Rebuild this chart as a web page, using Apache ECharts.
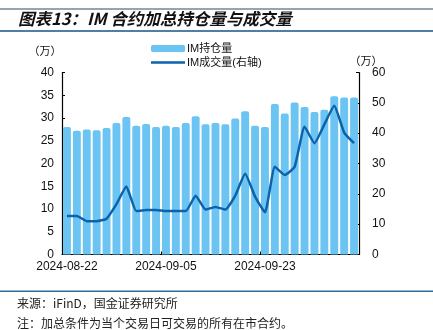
<!DOCTYPE html>
<html>
<head>
<meta charset="utf-8">
<script src="https://cdn.jsdelivr.net/npm/echarts@6/dist/echarts.min.js"></script>
<style>
  html, body { margin: 0; padding: 0; background: #fff; }
  #chart { width: 433px; height: 330px; }
</style>
</head>
<body>
<div id="chart"></div>
<script>
// Trading days shown on the category axis
const dates = [
  '2024-08-22','2024-08-23','2024-08-26','2024-08-27','2024-08-28','2024-08-29','2024-08-30',
  '2024-09-02','2024-09-03','2024-09-04','2024-09-05','2024-09-06','2024-09-09','2024-09-10',
  '2024-09-11','2024-09-12','2024-09-13','2024-09-18','2024-09-19','2024-09-20','2024-09-23',
  '2024-09-24','2024-09-25','2024-09-26','2024-09-27','2024-09-30','2024-10-08','2024-10-09',
  '2024-10-10','2024-10-11'
];
// IM total open interest (10k lots, left axis)
const openInterest = [
  28.0, 27.2, 27.5, 27.3, 27.8, 28.9, 30.2, 28.3, 28.7, 28.0,
  28.3, 28.0, 28.9, 30.4, 28.6, 28.9, 28.6, 29.9, 31.5, 28.3,
  28.0, 33.1, 31.0, 33.4, 32.4, 31.3, 31.8, 34.8, 34.5, 34.5
];
// IM total trading volume (10k lots, right axis)
const volume = [
  12.7, 12.7, 11.0, 11.0, 11.8, 16.6, 22.4, 14.3, 14.7, 14.7,
  14.3, 14.3, 14.3, 19.4, 14.8, 15.7, 14.8, 19.4, 26.6, 19.1,
  13.9, 28.9, 26.2, 28.9, 42.1, 36.7, 42.9, 49.0, 40.2, 36.7
];
const seriesNames = ['IM持仓量', 'IM成交量(右轴)'];
const titleText = '图表13：IM 合约加总持仓量与成交量';
const sourceText = '来源：iFinD，国金证券研究所';
const noteText = '注：加总条件为当个交易日可交易的所有在市合约。';
const unitText = '（万）';

const barColor = '#6cc4f2';
const lineColor = '#0b62ad';
const labelFont = { color: '#111', fontSize: 12, fontFamily: 'Liberation Sans, Arial, sans-serif' };
// thin horizontal stroke centred in a 34x7 legend box
const lineIcon = 'path://M0,0M34,7M0,2.3L34,2.3L34,4.7L0,4.7Z';

const chart = echarts.init(document.getElementById('chart'), null, { renderer: 'canvas' });

chart.setOption({
  animation: false,
  backgroundColor: '#fff',
  grid: { left: 62, right: 74, top: 72.5, bottom: 75.5, containLabel: false },
  legend: {
    orient: 'vertical',
    left: 146,
    top: 38,
    itemWidth: 34,
    itemHeight: 7,
    itemGap: 3,
    textStyle: { color: '#111', fontSize: 11, fontFamily: 'Liberation Sans, Noto Sans CJK SC, sans-serif', padding: [0, 0, 0, -3] },
    data: [
      { name: seriesNames[0], icon: 'roundRect' },
      { name: seriesNames[1], icon: lineIcon, itemStyle: { color: lineColor } }
    ]
  },
  xAxis: {
    type: 'category',
    data: dates,
    boundaryGap: true,
    axisLine: { lineStyle: { color: '#000', width: 1.2 } },
    axisTick: { show: true, inside: true, length: 3, interval: 9, lineStyle: { color: '#000' } },
    axisLabel: Object.assign({ interval: 9, margin: 6 }, labelFont)
  },
  yAxis: [
    {
      type: 'value', min: 0, max: 40, interval: 5,
      splitLine: { show: false },
      axisLine: { show: true, lineStyle: { color: '#000', width: 1.2 } },
      axisTick: { show: true, inside: true, length: 3, lineStyle: { color: '#000' } },
      axisLabel: Object.assign({ margin: 8 }, labelFont)
    },
    {
      type: 'value', min: 0, max: 60, interval: 10, position: 'right',
      splitLine: { show: false },
      axisLine: { show: true, lineStyle: { color: '#000', width: 1.2 } },
      axisTick: { show: true, inside: true, length: 3, lineStyle: { color: '#000' } },
      axisLabel: Object.assign({ margin: 13 }, labelFont)
    }
  ],
  series: [
    {
      name: seriesNames[0],
      type: 'bar',
      yAxisIndex: 0,
      data: openInterest,
      barCategoryGap: '20%',
      itemStyle: { color: barColor, borderRadius: [2, 2, 0, 0] }
    },
    {
      name: seriesNames[1],
      type: 'line',
      yAxisIndex: 1,
      data: volume,
      symbol: 'none',
      smooth: 0.15,
      lineStyle: { color: lineColor, width: 2.5, join: 'round' },
      itemStyle: { color: lineColor }
    }
  ],
  graphic: [
    // header rules and caption
    { type: 'rect', shape: { x: 0, y: 8.5, width: 433, height: 1 }, style: { fill: '#2c4a66' } },
    { type: 'rect', shape: { x: 0, y: 30, width: 433, height: 2 }, style: { fill: '#4f7fa6' } },
    {
      type: 'text', x: 18, y: 19,
      style: {
        text: titleText, fill: '#111', verticalAlign: 'middle',
        font: 'italic bold 16.5px "Noto Sans CJK SC", sans-serif'
      }
    },
    // axis unit captions
    {
      type: 'text', x: 45, y: 51,
      style: { text: unitText, fill: '#111', align: 'center', verticalAlign: 'middle', font: '11px "Noto Sans CJK SC", sans-serif' }
    },
    {
      type: 'text', x: 366, y: 61,
      style: { text: unitText, fill: '#111', align: 'center', verticalAlign: 'middle', font: '11px "Noto Sans CJK SC", sans-serif' }
    },
    // footer rule, source and note
    { type: 'rect', shape: { x: 0, y: 290.5, width: 433, height: 1.5 }, style: { fill: '#2f6a98' } },
    {
      type: 'text', x: 17, y: 303,
      style: { text: sourceText, fill: '#222', verticalAlign: 'middle', font: '12px "Noto Sans CJK SC", sans-serif' }
    },
    {
      type: 'text', x: 17, y: 323,
      style: { text: noteText, fill: '#222', verticalAlign: 'middle', font: '12px "Noto Sans CJK SC", sans-serif' }
    }
  ]
});
</script>
</body>
</html>
